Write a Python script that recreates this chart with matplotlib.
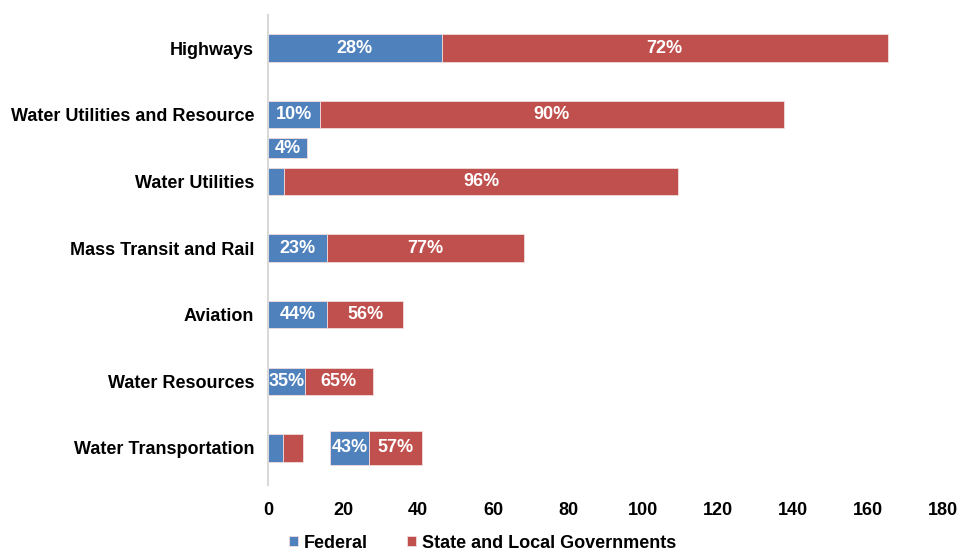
import matplotlib.pyplot as plt
import numpy as np
from matplotlib import font_manager

names = {f.name for f in font_manager.fontManager.ttflist}
font = 'Liberation Sans Narrow' if 'Liberation Sans Narrow' in names else 'Liberation Sans'
plt.rcParams['font.family'] = [font, 'DejaVu Sans']
plt.rcParams['font.weight'] = 'bold'

categories = ['Highways', 'Water Utilities and Resource', 'Water Utilities',
              'Mass Transit and Rail', 'Aviation', 'Water Resources', 'Water Transportation']
totals = [165.3, 137.6, 109.3, 68.3, 36.0, 28.0, 9.3]
federal_pct = [28, 10, 4, 23, 44, 35, 43]
labels_inside = [True, True, False, True, True, True, False]

# enlarged callouts for the thin segments
callout_rows = [1.5, 6]
callout_left = [0, 16.5]
callout_width = [10.4, 24.5]
callout_fed_pct = [100, 43]
callout_text = [['4%'], ['43%', '57%']]

blue = '#4F81BD'
red = '#C0504D'
edge = '#f2dcdc'

fig = plt.figure(figsize=(9.65, 5.6), dpi=100)
ax = fig.add_axes([0.2777, 0.134, 0.6995, 0.839])

y = np.arange(len(categories))
fed = np.array(totals) * np.array(federal_pct) / 100
state = np.array(totals) - fed
ax.barh(y, fed, height=0.41, color=blue, edgecolor=edge, linewidth=0.6, label='Federal')
ax.barh(y, state, left=fed, height=0.41, color=red, edgecolor=edge, linewidth=0.6,
        label='State and Local Governments')

for i in range(len(categories)):
    if labels_inside[i]:
        ax.text(fed[i] / 2, y[i], f'{federal_pct[i]}%', color='white', ha='center',
                va='center', fontsize=13)
    if labels_inside[i] or i == 2:
        ax.text(fed[i] + state[i] / 2, y[i], f'{100 - federal_pct[i]}%', color='white',
                ha='center', va='center', fontsize=13)

for row, left, width, pct, texts in zip(callout_rows, callout_left, callout_width,
                                        callout_fed_pct, callout_text):
    h = 0.29 if pct == 100 else 0.5
    fw = width * pct / 100
    ax.barh(row, fw, left=left, height=h, color=blue, edgecolor=edge, linewidth=0.6)
    ax.text(left + fw / 2, row, texts[0], color='white', ha='center', va='center', fontsize=13)
    if pct < 100:
        ax.barh(row, width - fw, left=left + fw, height=h, color=red,
                edgecolor=edge, linewidth=0.6)
        ax.text(left + fw + (width - fw) / 2, row, texts[1], color='white',
                ha='center', va='center', fontsize=13)

ax.set_xlim(0, 180)
ax.set_ylim(6.555, -0.495)
ax.set_xticks(np.arange(0, 181, 20))
ax.set_yticks(y)
ax.set_yticklabels(categories, fontsize=13)
ax.tick_params(axis='x', labelsize=13, length=0, pad=12)
ax.tick_params(axis='y', length=0, pad=10)
for s in ['top', 'right', 'bottom']:
    ax.spines[s].set_visible(False)
ax.spines['left'].set_color('#d9d9d9')
ax.spines['left'].set_linewidth(1.5)

fig.legend(*ax.get_legend_handles_labels(), loc='center', bbox_to_anchor=(0.5, 0.03),
           ncol=2, frameon=False, fontsize=13, handlelength=0.5, handleheight=0.5,
           handletextpad=0.3, columnspacing=2.2, borderaxespad=0, borderpad=0)

fig.savefig('out.png', dpi=100)
